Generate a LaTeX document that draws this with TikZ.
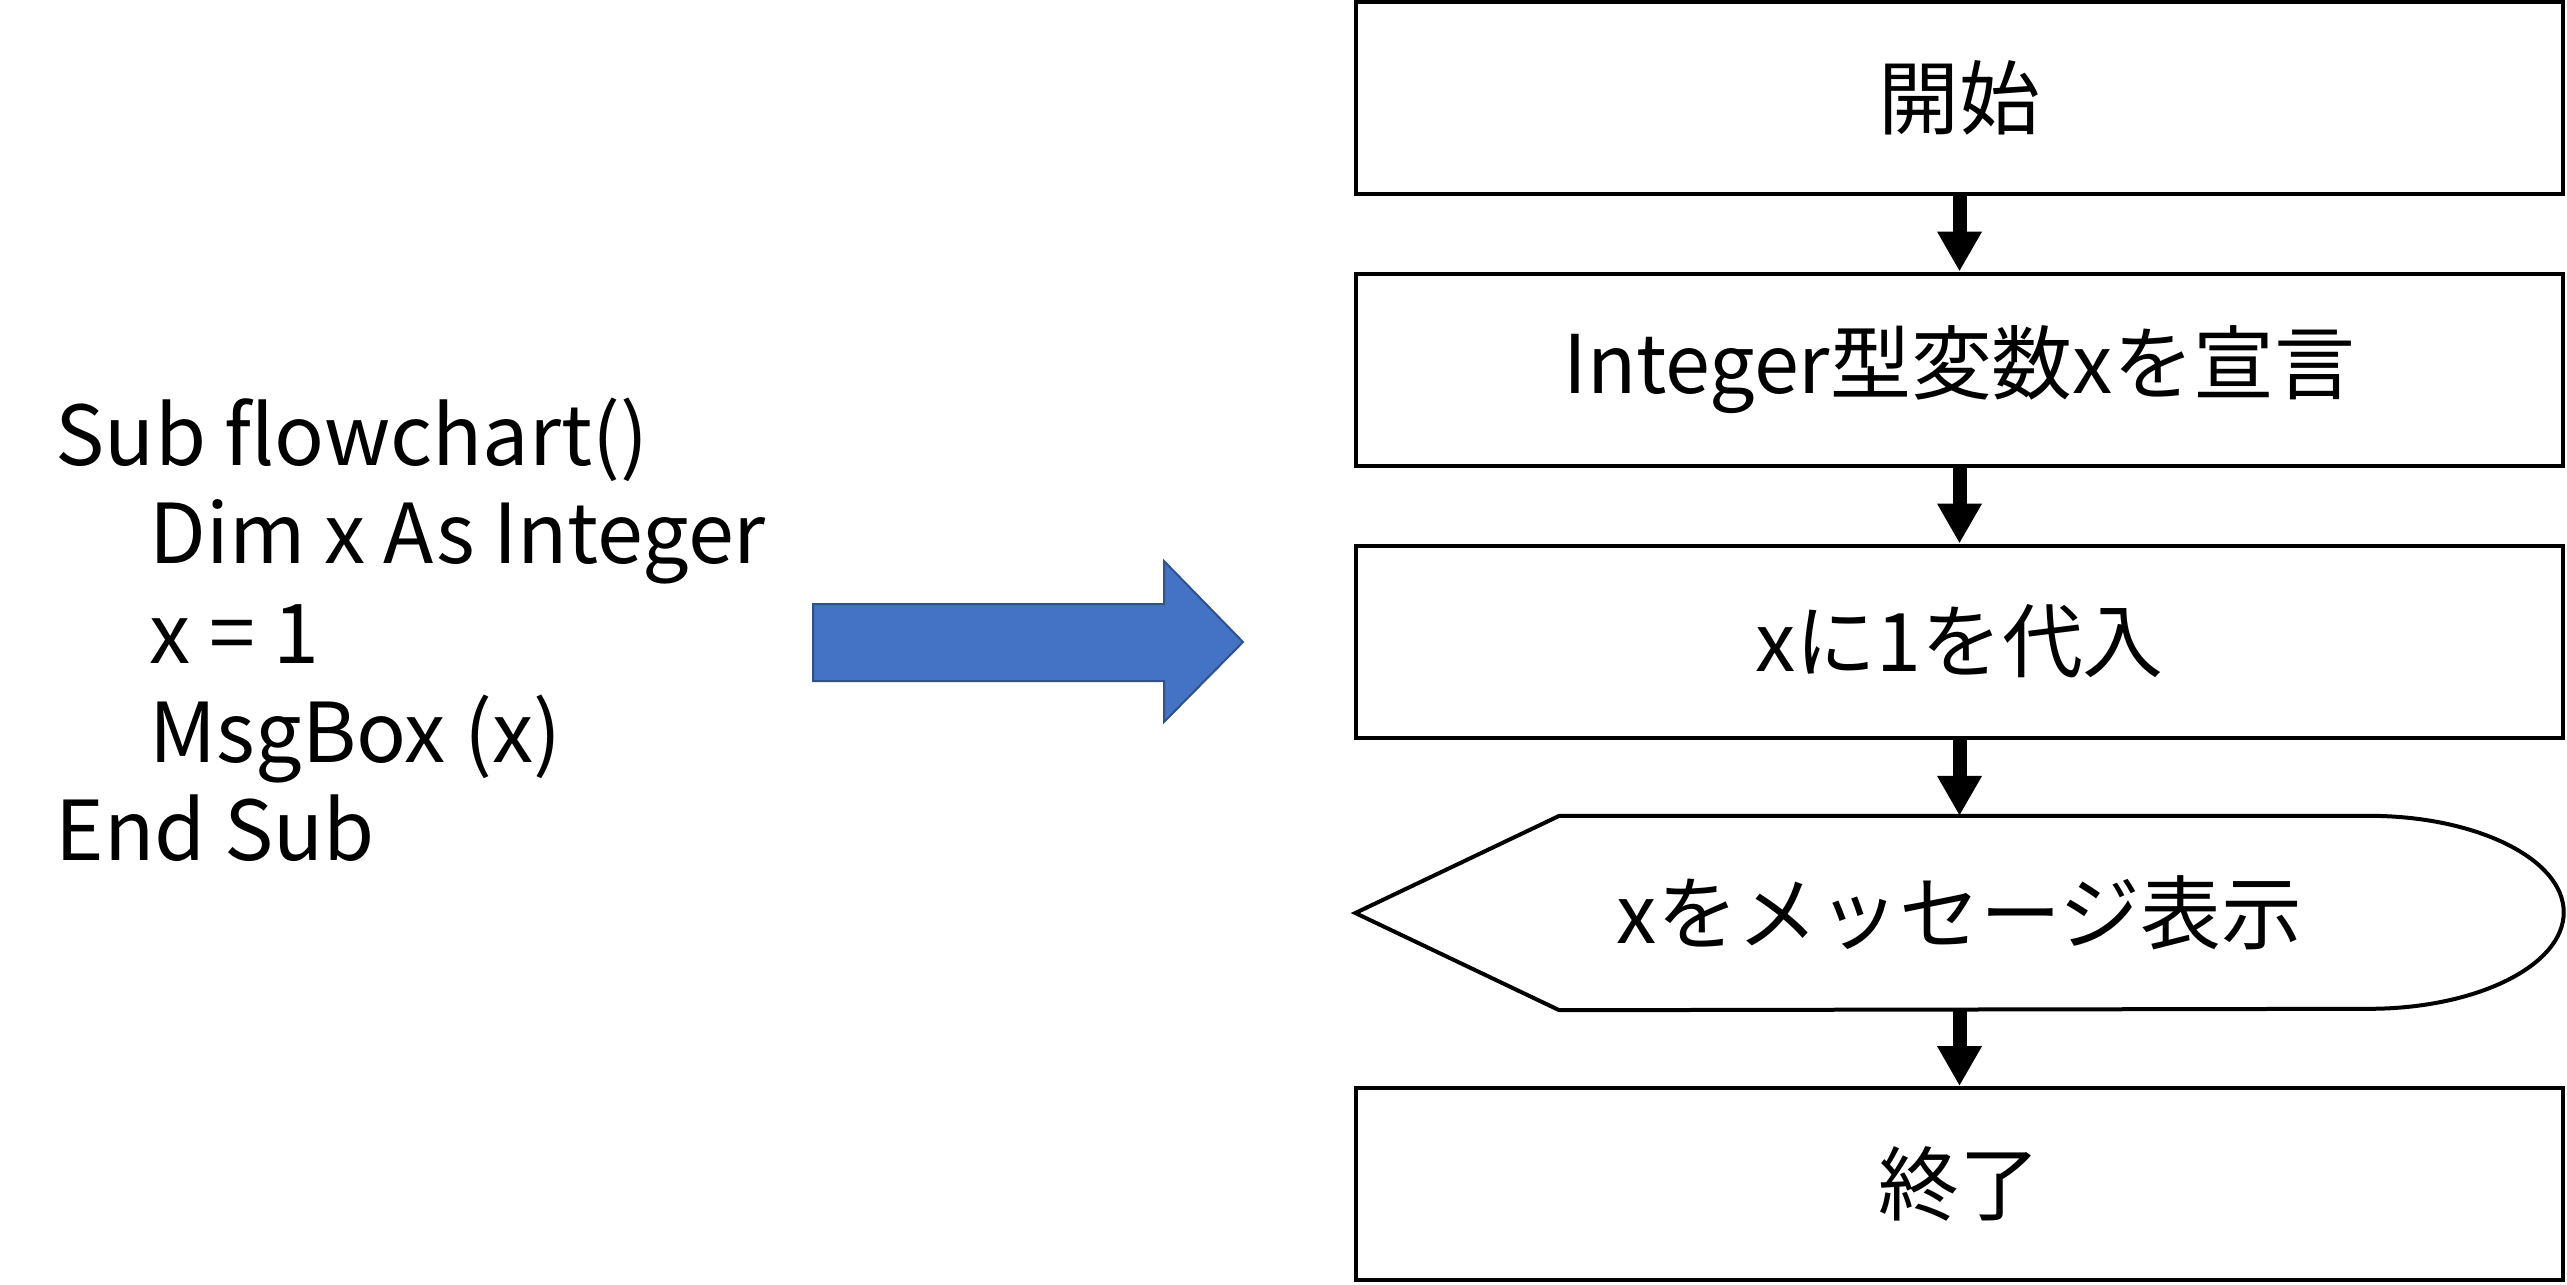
\documentclass[tikz,border=0pt]{standalone}
\usepackage{fontspec}
\setmainfont{Noto Sans CJK JP}
\usetikzlibrary{arrows.meta,positioning}

\definecolor{arrowblue}{HTML}{4472C4}
\definecolor{arrowedge}{HTML}{2F528F}

\begin{document}
\begin{tikzpicture}[
  box/.style={draw, line width=0.04cm, minimum width=12.07cm, minimum height=1.92cm, inner sep=0pt, font=\fontsize{23pt}{28pt}\selectfont},
  disp/.style={minimum width=12.07cm, minimum height=1.93cm, inner sep=0pt, font=\fontsize{23pt}{28pt}\selectfont},
  code/.style={anchor=base west, inner sep=0pt, font=\fontsize{23.5pt}{28pt}\selectfont},
  flow/.style={line width=0.14cm, -{Triangle[length=4mm, width=4.2mm]}}
]
\useasboundingbox (0,0) rectangle (25.67,-12.84);

% source code
\node[code] (c1) at (0.55,-4.65) {Sub flowchart()};
\node[code] (c2) at (1.49,-5.63) {Dim x As Integer};
\node[code] (c3) at (1.49,-6.63) {x = 1};
\node[code] (c4) at (1.49,-7.62) {MsgBox (x)};
\node[code] (c5) at (0.55,-8.60) {End Sub};

% big arrow
\filldraw[fill=arrowblue, draw=arrowedge, line width=0.02cm]
  (8.13,-6.04) -- (11.64,-6.04) -- (11.64,-5.61) -- (12.43,-6.42)
  -- (11.64,-7.22) -- (11.64,-6.81) -- (8.13,-6.81) -- cycle;

% flowchart
\node[box] (start) at (19.595,-0.98) {開始};
\node[box] (decl) at (19.595,-3.695) {Integer型変数xを宣言};
\node[box] (assign) at (19.595,-6.415) {xに1を代入};
\node[disp] (msg) at (19.595,-9.13) {xをメッセージ表示};
\node[box] (stop) at (19.595,-11.84) {終了};

\draw[line width=0.04cm] (msg.west) -- ([xshift=2.04cm]msg.north west)
  -- ([xshift=-1.95cm]msg.north east)
  arc[start angle=90, end angle=-90, x radius=1.95cm, y radius=0.965cm]
  -- ([xshift=2.04cm]msg.south west) -- cycle;

\draw[flow] (start) -- (decl);
\draw[flow] (decl) -- (assign);
\draw[flow] (assign) -- (msg);
\draw[flow] (msg) -- (stop);
\end{tikzpicture}
\end{document}
